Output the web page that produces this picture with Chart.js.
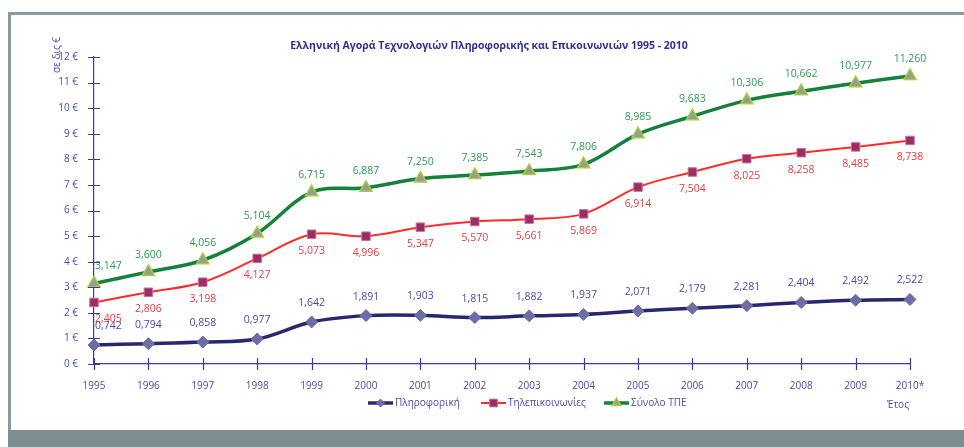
<!DOCTYPE html>
<html>
<head>
<meta charset="utf-8">
<script src="https://cdn.jsdelivr.net/npm/chart.js@4/dist/chart.umd.min.js"></script>
<style>
  html, body { margin: 0; padding: 0; background: #fff; }
  #wrap { position: relative; width: 964px; height: 447px; overflow: hidden; font-family: "Open Sans", "Noto Sans", sans-serif; }
  #frame { position: absolute; left: 8px; top: 12px; width: 1000px; height: 440px; border-left: 3px solid #8b9a9f; border-top: 3px solid #8b9a9f; box-sizing: border-box; }
  #bottombar { position: absolute; left: 8px; top: 430px; width: 1000px; height: 17px; background: #7d8e93; }
  canvas { position: absolute; left: 0; top: 0; }
  .txt { position: absolute; color: #3b3b9b; white-space: nowrap; }
  #title { left: 489px; top: 45px; transform: translate(-50%, -50%); font-weight: bold; font-size: 10.5px; color: #2e3192; }
  #ytitle { left: 56px; top: 55px; transform: translate(-50%, -50%) rotate(-90deg); font-size: 10px; color: #4b4ba8; }
  #xtitle { left: 898px; top: 404px; transform: translate(-50%, -50%); font-size: 10px; color: #4b4ba8; }
</style>
</head>
<body>
<div id="wrap">
  <div id="frame"></div>
  <div id="bottombar"></div>
  <canvas id="chart" width="964" height="447"></canvas>
  <div class="txt" id="title">Ελληνική Αγορά Τεχνολογιών Πληροφορικής και Επικοινωνιών 1995 - 2010</div>
  <div class="txt" id="ytitle">σε δις €</div>
  <div class="txt" id="xtitle">Έτος</div>
</div>
<script>
// κατηγορίες (έτη)
const years = ['1995', '1996', '1997', '1998', '1999', '2000', '2001', '2002', '2003', '2004', '2005', '2006', '2007', '2008', '2009', '2010*'];

// τιμές σε δις €
const pliroforiki = [0.742, 0.794, 0.858, 0.977, 1.642, 1.891, 1.903, 1.815, 1.882, 1.937, 2.071, 2.179, 2.281, 2.404, 2.492, 2.522];
const tilepikoinonies = [2.405, 2.806, 3.198, 4.127, 5.073, 4.996, 5.347, 5.570, 5.661, 5.869, 6.914, 7.504, 8.025, 8.258, 8.485, 8.738];
const synoloTPE = [3.147, 3.600, 4.056, 5.104, 6.715, 6.887, 7.250, 7.385, 7.543, 7.806, 8.985, 9.683, 10.306, 10.662, 10.977, 11.260];

const seriesNames = ['Πληροφορική', 'Τηλεπικοινωνίες', 'Σύνολο ΤΠΕ'];
const yTicks = [0, 1, 2, 3, 4, 5, 6, 7, 8, 9, 10, 11, 12];

const axisColor = '#3b3b9b';
const labelFont = '10px "Open Sans", "Noto Sans", sans-serif';

// Μορφή αριθμού με κόμμα
const fmt = v => v.toFixed(3).replace('.', ',');

// Plugin: ticks που διασχίζουν τους άξονες
const crossTicks = {
    id: 'crossTicks',
    afterDraw(chart) {
        const ctx = chart.ctx;
        const x = chart.scales.x, y = chart.scales.y;
        ctx.save();
        ctx.strokeStyle = axisColor;
        ctx.lineWidth = 1.2;
        ctx.beginPath();
        yTicks.forEach(t => {
            const py = Math.round(y.getPixelForValue(t)) + 0.5;
            ctx.moveTo(x.left - 6, py);
            ctx.lineTo(x.left + 6, py);
        });
        years.forEach((_, i) => {
            const px = Math.round(x.getPixelForValue(i)) + 0.5;
            ctx.moveTo(px, y.bottom - 6);
            ctx.lineTo(px, y.bottom + 6);
        });
        ctx.stroke();
        ctx.restore();
    }
};

// Plugin: ετικέτες τιμών
const valueLabels = {
    id: 'valueLabels',
    afterDatasetsDraw(chart) {
        const ctx = chart.ctx;
        ctx.save();
        ctx.font = '10.5px "Open Sans", "Noto Sans", sans-serif';
        ctx.textBaseline = 'middle';
        chart.data.datasets.forEach((ds, di) => {
            const meta = chart.getDatasetMeta(di);
            meta.data.forEach((pt, i) => {
                ctx.fillStyle = ds.labelColor;
                ctx.textAlign = i === 0 ? 'left' : 'center';
                const dx = i === 0 ? 1 : 0;
                ctx.fillText(fmt(ds.data[i]), pt.x + dx, pt.y + ds.labelOffset);
            });
        });
        ctx.restore();
    }
};

// Plugin: υπόμνημα (γραμμή + σημάδι)
const legendPlugin = {
    id: 'legendLine',
    afterDraw(chart) {
        const ctx = chart.ctx;
        const starts = [368, 481, 604];
        const ly = 403;
        chart.data.datasets.forEach((ds, di) => {
            const x0 = starts[di];
            ctx.save();
            ctx.strokeStyle = ds.borderColor;
            ctx.lineWidth = ds.borderWidth;
            ctx.beginPath();
            ctx.moveTo(x0, ly);
            ctx.lineTo(x0 + 25, ly);
            ctx.stroke();
            ctx.fillStyle = ds.pointBackgroundColor;
            ctx.strokeStyle = ds.pointBorderColor;
            ctx.lineWidth = ds.pointBorderWidth;
            Chart.helpers.drawPoint(ctx, {
                pointStyle: ds.pointStyle,
                radius: ds.legendRadius,
                borderWidth: ds.pointBorderWidth,
                rotation: 0
            }, x0 + 12.5, ly);
            ctx.fillStyle = '#4b4ba8';
            ctx.font = labelFont;
            ctx.textAlign = 'left';
            ctx.textBaseline = 'middle';
            ctx.fillText(seriesNames[di], x0 + 27, ly);
            ctx.restore();
        });
    }
};

new Chart(document.getElementById('chart'), {
    type: 'line',
    data: {
        labels: years,
        datasets: [
            {
                label: seriesNames[0],
                data: pliroforiki,
                borderColor: '#27286f',
                borderWidth: 3.5,
                pointStyle: 'rectRot',
                pointRadius: 6,
                legendRadius: 4,
                pointBackgroundColor: '#6d6da5',
                pointBorderColor: '#6d6da5',
                pointBorderWidth: 1,
                labelColor: '#4a4aa6',
                labelOffset: -19,
                tension: 0.35,
                order: 3
            },
            {
                label: seriesNames[1],
                data: tilepikoinonies,
                borderColor: '#ff2b2b',
                borderWidth: 2,
                pointStyle: 'rect',
                pointRadius: 6,
                legendRadius: 5.5,
                pointBackgroundColor: '#9b2d61',
                pointBorderColor: '#c2739a',
                pointBorderWidth: 1,
                labelColor: '#f0383c',
                labelOffset: 17,
                tension: 0.35,
                order: 2
            },
            {
                label: seriesNames[2],
                data: synoloTPE,
                borderColor: '#15813b',
                borderWidth: 3.5,
                pointStyle: 'triangle',
                pointRadius: 7,
                legendRadius: 5,
                pointBackgroundColor: '#9a9a9a',
                pointBorderColor: '#a2d03c',
                pointBorderWidth: 1.5,
                labelColor: '#2e9a55',
                labelOffset: -17,
                tension: 0.35,
                order: 1
            }
        ]
    },
    options: {
        responsive: false,
        animation: false,
        layout: { padding: { left: 0, right: 54, top: 57, bottom: 53 } },
        plugins: {
            legend: { display: false },
            title: { display: false },
            tooltip: { enabled: false }
        },
        scales: {
            x: {
                offset: false,
                grid: { display: false },
                border: { display: true, color: axisColor, width: 1.2 },
                ticks: { color: '#4b4ba8', font: { size: 10, family: '"Open Sans", "Noto Sans", sans-serif' }, padding: 8, maxRotation: 0, autoSkip: false },
                afterFit: s => { s.height = 30; }
            },
            y: {
                min: 0,
                max: 12,
                grid: { display: false },
                border: { display: true, color: axisColor, width: 1.2 },
                ticks: {
                    stepSize: 1,
                    color: '#4b4ba8',
                    font: { size: 10, family: '"Open Sans", "Noto Sans", sans-serif' },
                    padding: 8,
                    callback: v => v + ' €'
                },
                afterFit: s => { s.width = 94; }
            }
        }
    },
    plugins: [crossTicks, valueLabels, legendPlugin]
});
</script>
</body>
</html>
